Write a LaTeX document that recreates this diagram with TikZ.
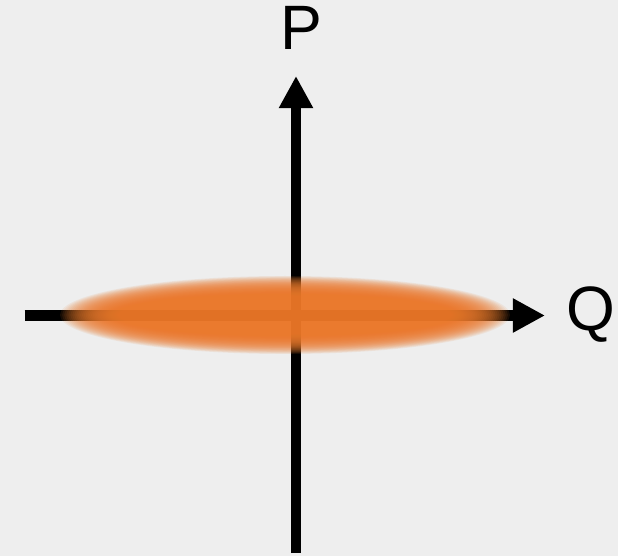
\documentclass[tikz,border=0pt]{standalone}
\usepackage{fontspec}
\setsansfont{Liberation Sans}
\usetikzlibrary{arrows.meta}
\definecolor{bggray}{RGB}{238,238,238}
\definecolor{glow}{RGB}{234,122,46}

\begin{document}
\begin{tikzpicture}[x=0.025cm, y=-0.025cm,
  axisline/.style={line width=0.26cm, -{Triangle[length=0.8cm, width=0.8cm]}},
  lbl/.style={font=\sffamily\fontsize{44.6pt}{50pt}\selectfont, inner sep=0pt, anchor=base},
  haze/.style={fill=glow, opacity=0.1}]
  % background
  \fill[bggray] (0,0) rectangle (618,556);
  \useasboundingbox (0,0) rectangle (618,556);
  % axis end points
  \coordinate (pbot) at (296,553);
  \coordinate (ptop) at (296,76);
  \coordinate (qleft) at (24.7,315.5);
  \coordinate (qright) at (545,315.5);
  \coordinate (ctr) at (285,315);
  % axes
  \draw[axisline] (pbot) -- (ptop);
  \draw[axisline] (qleft) -- (qright);
  \node[lbl] (plabel) at (301,50) {P};
  \node[lbl] (qlabel) at (590.5,331) {Q};
  % blurred spot, stacked thin layers
  \foreach \i in {0,...,41} {
    \pgfmathsetmacro{\d}{(1-\i/41)^1.4}
    \fill[haze] (ctr) ellipse ({163+62*\d} and {18+21*\d});
  }
\end{tikzpicture}
\end{document}
